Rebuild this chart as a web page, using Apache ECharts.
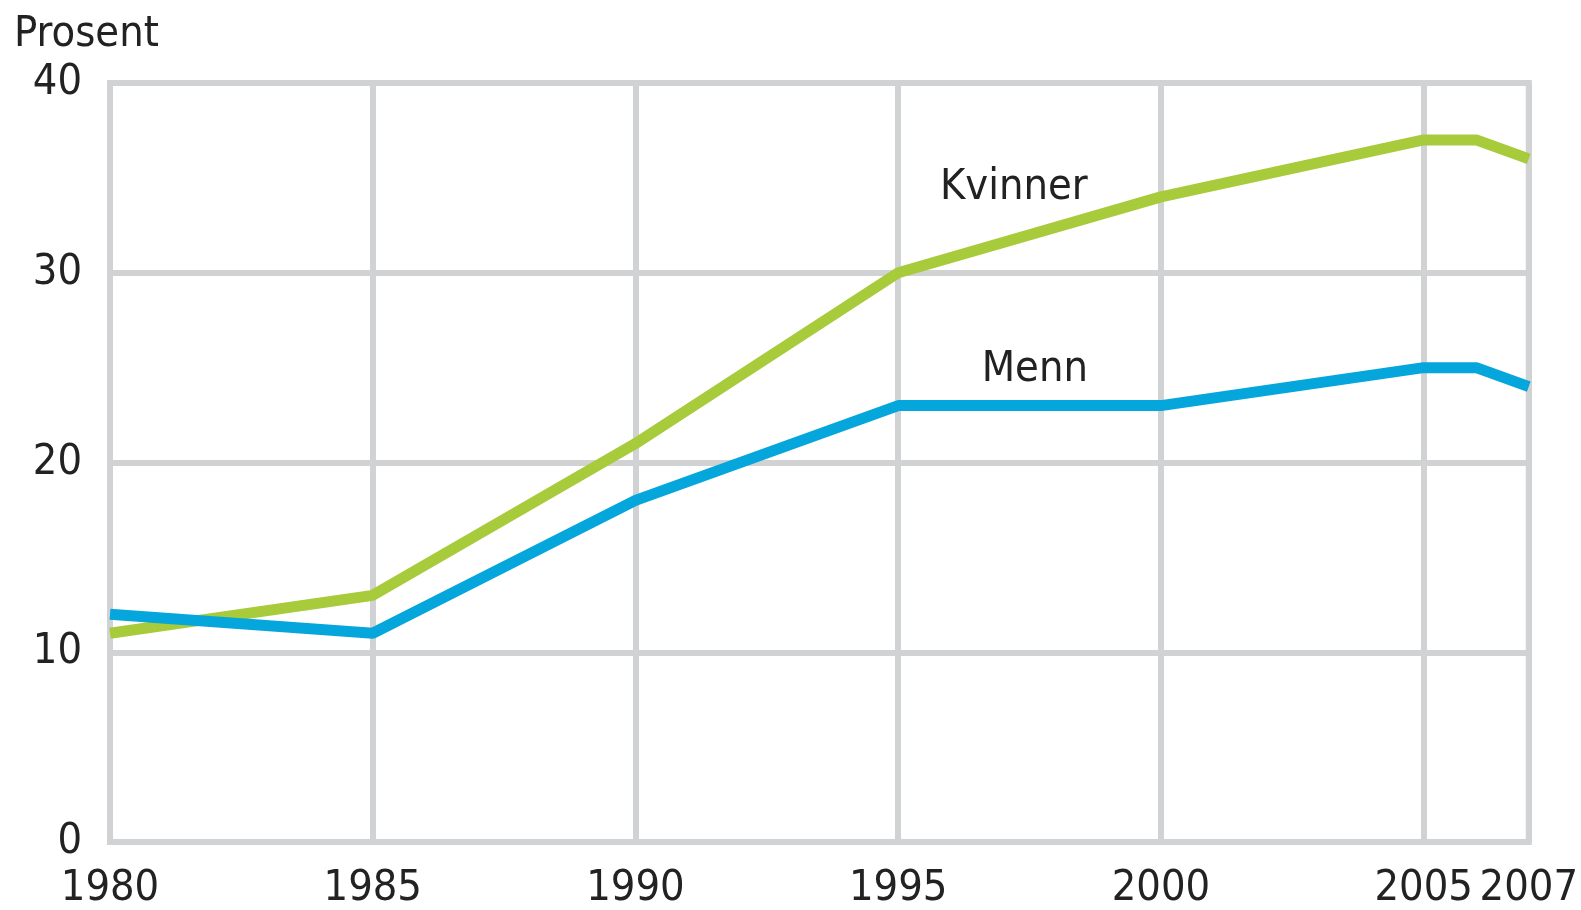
<!DOCTYPE html>
<html>
<head>
<meta charset="utf-8">
<script src="https://cdn.jsdelivr.net/npm/echarts@6/dist/echarts.min.js"></script>
<style>
  html, body { margin: 0; padding: 0; background: #fff; }
  #chart { width: 1581px; height: 910px; }
</style>
</head>
<body>
<div id="chart"></div>
<script>
var years = [1980, 1985, 1990, 1995, 2000, 2005, 2006, 2007];
var kvinner = [11, 13, 21, 30, 34, 37, 37, 36];
var menn = [12, 11, 18, 23, 23, 25, 25, 24];
var yearLabels = [1980, 1985, 1990, 1995, 2000, 2005, 2007];
var yTicks = [0, 10, 20, 30, 40];

var font = '"DejaVu Sans Condensed", "Liberation Sans", sans-serif';
var fs = 43;
var gridGrey = '#d1d2d4';

function pairs(vals) {
    return years.map(function (y, i) { return [y, vals[i]]; });
}

var myChart = echarts.init(document.getElementById('chart'));

myChart.setOption({
    backgroundColor: '#fff',
    animation: false,
    textStyle: { fontFamily: font },
    grid: {
        left: 110, right: 46, top: 83, bottom: 67,
        show: true, borderColor: gridGrey, borderWidth: 6
    },
    graphic: [{
        type: 'text', left: 14, top: 13,
        style: { text: 'Prosent', font: fs + 'px ' + font, fill: '#222' }
    }],
    xAxis: {
        type: 'value', min: yearLabels[0], max: yearLabels[yearLabels.length - 1], interval: 5,
        axisLine: { show: false },
        axisTick: { show: false },
        splitLine: { show: true, lineStyle: { color: gridGrey, width: 6 } },
        axisLabel: {
            showMaxLabel: true, showMinLabel: true, hideOverlap: false,
            formatter: function (v) { return yearLabels.indexOf(v) >= 0 ? String(v) : ''; },
            color: '#222', fontSize: fs, fontFamily: font, margin: 25
        }
    },
    yAxis: {
        type: 'value', min: yTicks[0], max: yTicks[yTicks.length - 1], interval: 10,
        axisLine: { show: false },
        axisTick: { show: false },
        splitLine: { show: true, lineStyle: { color: gridGrey, width: 6 } },
        axisLabel: { color: '#222', fontSize: fs, fontFamily: font, margin: 28 }
    },
    series: [{
        name: 'Kvinner', type: 'line', data: pairs(kvinner),
        symbol: 'none', lineStyle: { color: '#a8cb3b', width: 11 },
        markPoint: {
            symbol: 'circle', symbolSize: 0,
            data: [{ coord: [1997.2, 34.5] }],
            label: { show: true, position: 'inside', formatter: 'Kvinner',
                color: '#222', fontSize: fs, fontFamily: font }
        }
    }, {
        name: 'Menn', type: 'line', data: pairs(menn),
        symbol: 'none', lineStyle: { color: '#05a6dc', width: 11 },
        markPoint: {
            symbol: 'circle', symbolSize: 0,
            data: [{ coord: [1997.6, 24.9] }],
            label: { show: true, position: 'inside', formatter: 'Menn',
                color: '#222', fontSize: fs, fontFamily: font }
        }
    }]
});
</script>
</body>
</html>
